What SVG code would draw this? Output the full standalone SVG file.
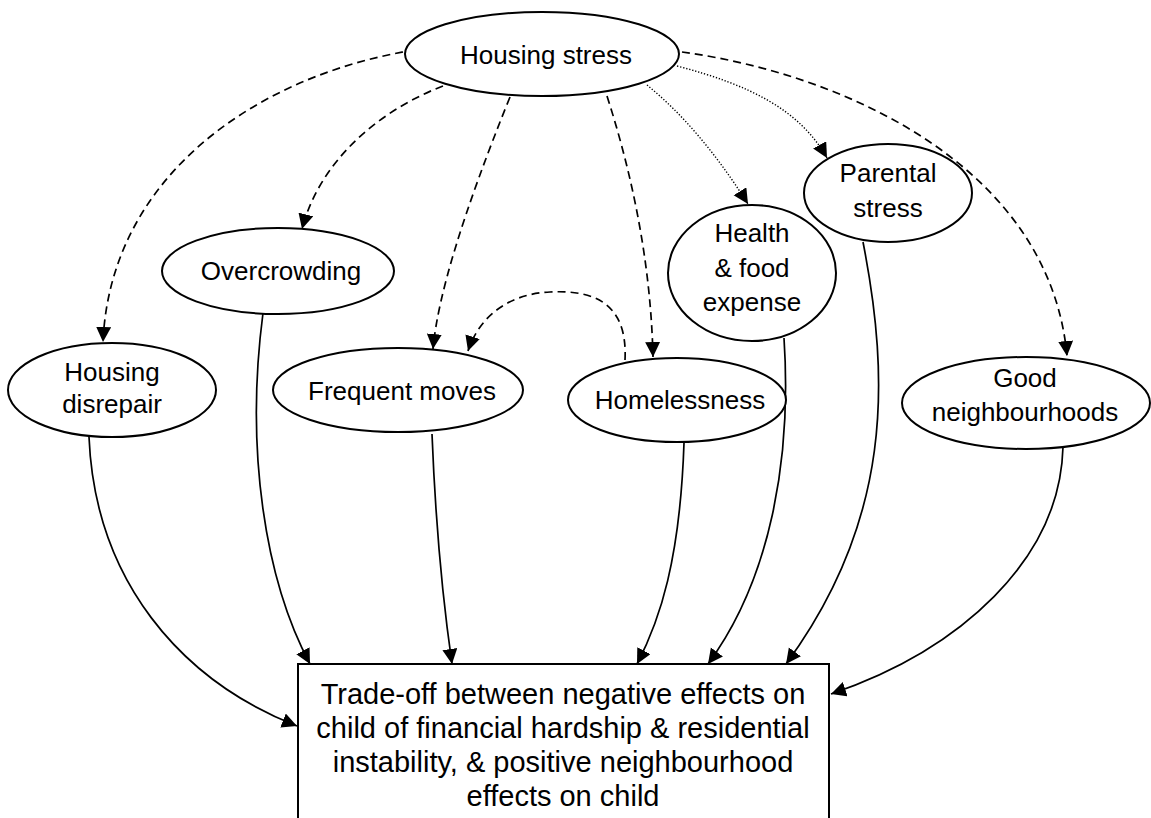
<svg xmlns="http://www.w3.org/2000/svg" width="1151" height="818" viewBox="0 0 1151 818">
<style>
.n{fill:#fff;stroke:#000;stroke-width:2}
.t{font-family:"Liberation Sans",Arial,sans-serif;font-size:26px;fill:#000;text-anchor:middle}
.b{font-size:29px}
.c{fill:none;stroke:#000;stroke-width:1.7}
.d{stroke-dasharray:8 5}
.o{stroke-dasharray:1.3 1.8;stroke-width:1.4}
</style>
<defs>
<marker id="ah" markerUnits="userSpaceOnUse" markerWidth="17" markerHeight="16" refX="15" refY="7.5" orient="auto">
<path d="M0,0 L15,7.5 L0,15 z" fill="#000"/>
</marker>
</defs>
<rect width="1151" height="818" fill="#fff"/>
<g id="connectors">
<path class="c d" d="M403,52 C250,80 110,180 103,342" marker-end="url(#ah)"/>
<path class="c d" d="M443,86 C380,110 320,160 302,229" marker-end="url(#ah)"/>
<path class="c d" d="M510,97 Q440,270 433,349" marker-end="url(#ah)"/>
<path class="c d" d="M607,96 Q650,230 653,357" marker-end="url(#ah)"/>
<path class="c d" d="M625,360 C628,300 590,290 550,292 C505,294 478,320 468,351" marker-end="url(#ah)"/>
<path class="c o" d="M647,85 Q700,128 748,204" marker-end="url(#ah)"/>
<path class="c o" d="M677,66 C750,85 800,110 827,158" marker-end="url(#ah)"/>
<path class="c d" d="M682,52 C850,75 1050,170 1067,356" marker-end="url(#ah)"/>
<path class="c" d="M89,437 C95,580 180,680 297,726" marker-end="url(#ah)"/>
<path class="c" d="M263,313 C245,450 265,580 310,664" marker-end="url(#ah)"/>
<path class="c" d="M432,434 Q437,560 452,664" marker-end="url(#ah)"/>
<path class="c" d="M684,443 C680,560 660,620 637,664" marker-end="url(#ah)"/>
<path class="c" d="M784,338 C792,460 770,580 708,664" marker-end="url(#ah)"/>
<path class="c" d="M863,242 C890,380 892,520 786,664" marker-end="url(#ah)"/>
<path class="c" d="M1063,447 C1060,560 960,650 831,694" marker-end="url(#ah)"/>
</g>
<g id="housing-stress">
<ellipse class="n" cx="542" cy="54" rx="137" ry="42"/>
<text class="t" x="546" y="64">Housing stress</text>
</g>
<g id="housing-disrepair">
<ellipse class="n" cx="112" cy="390" rx="104" ry="47"/>
<text class="t" x="112" y="381">Housing</text>
<text class="t" x="112" y="413">disrepair</text>
</g>
<g id="overcrowding">
<ellipse class="n" cx="278" cy="271" rx="116" ry="43"/>
<text class="t" x="281" y="280">Overcrowding</text>
</g>
<g id="frequent-moves">
<ellipse class="n" cx="398" cy="390" rx="125" ry="42"/>
<text class="t" x="402" y="400">Frequent moves</text>
</g>
<g id="homelessness">
<ellipse class="n" cx="677" cy="400" rx="109" ry="42"/>
<text class="t" x="680" y="409">Homelessness</text>
</g>
<g id="health-food">
<ellipse class="n" cx="752" cy="273" rx="84" ry="68"/>
<text class="t" x="752" y="242">Health</text>
<text class="t" x="752" y="277">&amp; food</text>
<text class="t" x="752" y="311">expense</text>
</g>
<g id="parental-stress">
<ellipse class="n" cx="888" cy="193" rx="84" ry="49"/>
<text class="t" x="888" y="182">Parental</text>
<text class="t" x="888" y="217">stress</text>
</g>
<g id="good-neighbourhoods">
<ellipse class="n" cx="1026" cy="403" rx="124" ry="46"/>
<text class="t" x="1025" y="387">Good</text>
<text class="t" x="1025" y="421">neighbourhoods</text>
</g>
<g id="outcome">
<rect class="n" x="298" y="664" width="531" height="170"/>
<text class="t b" x="563" y="704">Trade-off between negative effects on</text>
<text class="t b" x="563" y="738">child of financial hardship &amp; residential</text>
<text class="t b" x="563" y="772">instability, &amp; positive neighbourhood</text>
<text class="t b" x="563" y="806">effects on child</text>
</g>
</svg>
